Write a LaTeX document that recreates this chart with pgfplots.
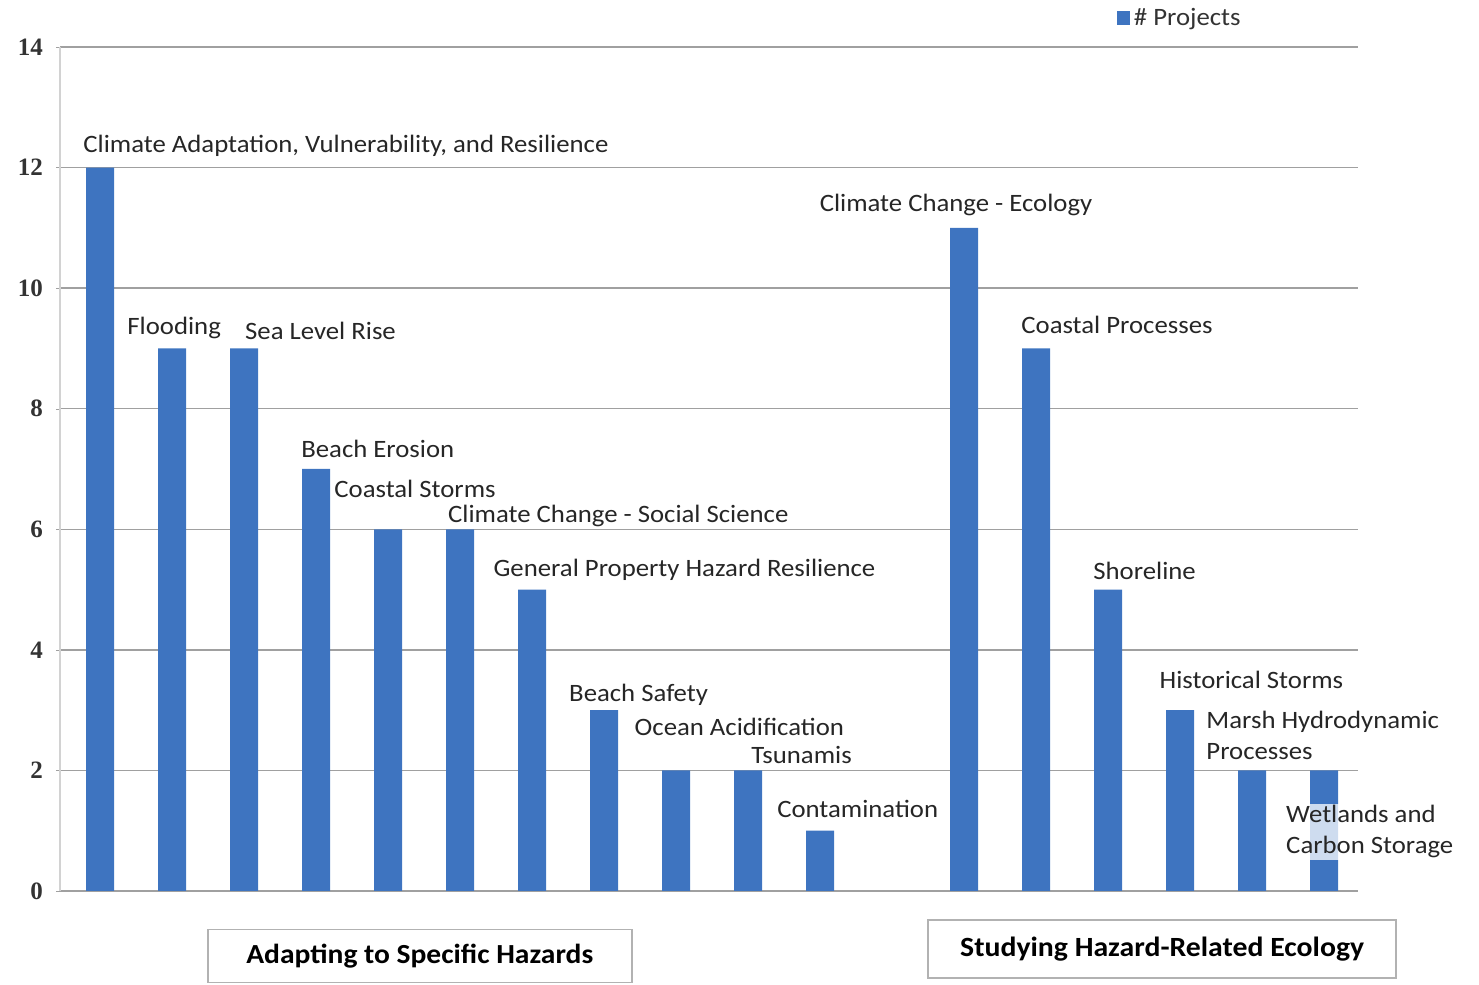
\documentclass[border=0pt]{standalone}
\usepackage{fontspec}
\setmainfont{Carlito}[FakeStretch=1.07]
\newfontfamily\myserifnum{Liberation Serif}
\usepackage{pgfplots}
\pgfplotsset{compat=1.18}
\definecolor{barblue}{RGB}{62,116,192}
\definecolor{gridgray}{RGB}{160,160,160}
\tikzset{lbl/.style={anchor=west, inner sep=0pt, font=\fontsize{12.5}{15.5}\selectfont, text=black!85}}
\begin{document}
\begin{tikzpicture}
\path (0,0) rectangle (739.5pt,492.5pt);
\begin{axis}[
  at={(30pt,47pt)}, anchor=south west,
  scale only axis, width=649pt, height=422pt,
  xmin=-0.556, xmax=17.47, ymin=0, ymax=14,
  ytick={0,2,...,14}, xtick=\empty,
  ymajorgrids, grid style={gridgray, line width=0.7pt},
  axis x line*=bottom, axis y line*=left,
  x axis line style={gridgray, line width=0.8pt, -},
  y axis line style={gray!35, line width=0.6pt, -},
  major tick length=2pt, tick align=outside,
  ytick style={gridgray},
  yticklabels={\myserifnum 0,\myserifnum 2,\myserifnum 4,\myserifnum 6,\myserifnum 8,\myserifnum 10,\myserifnum 12,\myserifnum 14},
  yticklabel style={text=black!80, xshift=-3pt, font=\myserifnum\fontsize{12.5}{14}\selectfont\bfseries},
  ybar, bar width=14pt,
  clip=false,
  legend style={at={(0.814,1.034)}, anchor=west, draw=none, fill=none,
    font=\fontsize{12.5}{14}\selectfont, inner sep=0pt, text=black!80},
  legend image code/.code={\fill[barblue] (0pt,-3.5pt) rectangle (6.5pt,3.5pt);},
]
\addplot[fill=barblue, draw=none] coordinates {
 (0,12) (1,9) (2,9) (3,7) (4,6) (5,6) (6,5) (7,3) (8,2) (9,2) (10,1)
 (12,11) (13,9) (14,5) (15,3) (16,2) (17,2)};
\addlegendentry{\# Projects}

\node[lbl] at (axis cs:-0.236,12.36) {Climate Adaptation, Vulnerability, and Resilience};
\node[lbl] at (axis cs:0.375,9.34) {Flooding};
\node[lbl] at (axis cs:2.01,9.29) {Sea Level Rise};
\node[lbl] at (axis cs:2.79,7.33) {Beach Erosion};
\node[lbl] at (axis cs:3.25,6.67) {Coastal Storms};
\node[lbl] at (axis cs:4.83,6.22) {Climate Change - Social Science};
\node[lbl] at (axis cs:5.46,5.32) {General Property Hazard Resilience};
\node[lbl] at (axis cs:6.51,3.25) {Beach Safety};
\node[lbl] at (axis cs:7.42,2.72) {Ocean Acidification};
\node[lbl] at (axis cs:9.04,2.26) {Tsunamis};
\node[lbl] at (axis cs:9.40,1.36) {Contamination};
\node[lbl] at (axis cs:9.99,11.38) {Climate Change - Ecology};
\node[lbl] at (axis cs:12.79,9.39) {Coastal Processes};
\node[lbl] at (axis cs:13.79,5.31) {Shoreline};
\node[lbl] at (axis cs:14.71,3.50) {Historical Storms};
\node[lbl, align=left] at (axis cs:15.36,2.58) {Marsh Hydrodynamic\\Processes};
\node[lbl, inner sep=1pt, align=left, fill=white, fill opacity=0.75, text opacity=1] at (axis cs:16.44,0.98) {Wetlands and\\Carbon Storage};

\node[draw=gray!60, line width=0.8pt, minimum width=212pt, minimum height=26.5pt, font=\fontsize{13.8}{15}\selectfont\bfseries, text=black] at (axis cs:4.44,-1.08) {Adapting to Specific Hazards};
\node[draw=gray!60, line width=0.8pt, minimum width=234pt, minimum height=29pt, font=\fontsize{13.9}{15}\selectfont\bfseries, text=black] at (axis cs:14.75,-0.96) {Studying Hazard-Related Ecology};
\end{axis}
\end{tikzpicture}
\end{document}
